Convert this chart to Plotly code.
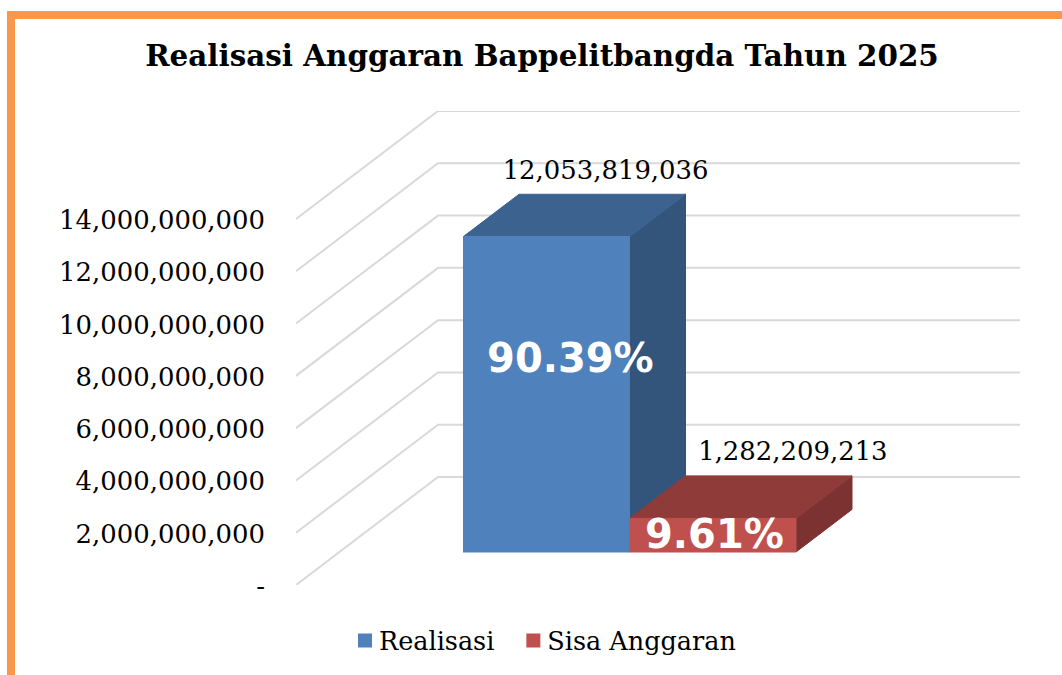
import plotly.graph_objects as go

TITLE = "Realisasi Anggaran Bappelitbangda Tahun 2025"
CATEGORIES = ["Realisasi", "Sisa Anggaran"]
VALUES = [12053819036, 1282209213]
VALUE_LABELS = ["12,053,819,036", "1,282,209,213"]
PERCENT_LABELS = ["90.39%", "9.61%"]
TICK_VALUES = [0, 2e9, 4e9, 6e9, 8e9, 10e9, 12e9, 14e9]
TICK_LABELS = ["-", "2,000,000,000", "4,000,000,000", "6,000,000,000",
               "8,000,000,000", "10,000,000,000", "12,000,000,000", "14,000,000,000"]

W, H = 1062, 675
SERIF = "DejaVu Serif"
# projection of the chart's depth axis into the value / category scales
PLOT_L, PLOT_R, PLOT_T, PLOT_B = 296, 1020, 111, 585
Y_MAX = 18.13e9
DEPTH_V = 4.13e9                  # full depth expressed in value units
PX_PER_UNIT = 166.5               # pixels per category slot
DEPTH_X = 142 / PX_PER_UNIT       # full depth in category units
X_BASE = 419.6
X0 = (PLOT_L - X_BASE) / PX_PER_UNIT
X1 = (PLOT_R - X_BASE) / PX_PER_UNIT
D_FRONT, D_BACK = 0.3056, 0.70
FRONT = ["#4f81bd", "#c0504d"]
TOP = ["#3c6290", "#8f3b3a"]
SIDE = ["#33557c", "#7c3230"]


def proj(x, v, d):
    return x + d * DEPTH_X, v + d * DEPTH_V


def poly(corners, fill, edge=None):
    xs, ys = zip(*[proj(*c) for c in corners])
    return go.Scatter(x=xs, y=ys, mode="lines", fill="toself", fillcolor=fill,
                      line=dict(color=edge or fill, width=1), hoverinfo="skip",
                      showlegend=False, cliponaxis=False)


fig = go.Figure()

# gridlines: walls of the depth box
gx, gy = [], []
for t in TICK_VALUES:
    for c in [(X0, t, 0), (X0, t, 1), (X1 - DEPTH_X, t, 1)]:
        px_, py_ = proj(*c)
        gx.append(px_)
        gy.append(py_)
    gx.append(None)
    gy.append(None)
fig.add_trace(go.Scatter(x=gx, y=gy, mode="lines", line=dict(color="#d9d9d9", width=2),
                         hoverinfo="skip", showlegend=False, cliponaxis=False))

# bars
for i, v in enumerate(VALUES):
    l, r = float(i), float(i + 1)
    fig.add_trace(poly([(r, 0, D_FRONT), (r, 0, D_BACK), (r, v, D_BACK), (r, v, D_FRONT)], SIDE[i]))
    fig.add_trace(poly([(l, v, D_FRONT), (l, v, D_BACK), (r, v, D_BACK), (r, v, D_FRONT)], TOP[i]))
    fig.add_trace(poly([(l, 0, D_FRONT), (r, 0, D_FRONT), (r, v, D_FRONT), (l, v, D_FRONT)], FRONT[i]))

# value labels above the bars and percentages on them
LABEL_SHIFT_X = [0.02, 0.145]
for i, v in enumerate(VALUES):
    lx, ly = proj(i + 0.5 + LABEL_SHIFT_X[i], v, D_BACK)
    fig.add_trace(go.Scatter(x=[lx], y=[ly + 0.845e9], mode="text", text=[VALUE_LABELS[i]],
                             textposition="middle center", hoverinfo="skip", showlegend=False,
                             cliponaxis=False,
                             textfont=dict(family=SERIF, size=25.9, color="#000000")))
PCT_X = [0.645, 0.51]
PCT_FRAC = [0.603, 0.42]
for i, v in enumerate(VALUES):
    lx, ly = proj(i + PCT_X[i], v * PCT_FRAC[i], D_FRONT)
    fig.add_trace(go.Scatter(x=[lx], y=[ly], mode="text", text=[PERCENT_LABELS[i]],
                             textposition="middle center", hoverinfo="skip", showlegend=False,
                             cliponaxis=False,
                             textfont=dict(family="DejaVu Sans", size=40, color="#ffffff",
                                           weight="bold")))

# legend entries
for i, c in enumerate(CATEGORIES):
    fig.add_trace(go.Scatter(x=[None], y=[None], mode="markers", name=c,
                             marker=dict(symbol="square", size=14, color=FRONT[i])))

fig.update_layout(
    width=W, height=H, autosize=False,
    margin=dict(l=0, r=0, t=0, b=0, autoexpand=False),
    paper_bgcolor="#ffffff", plot_bgcolor="#ffffff",
    title=dict(text=f"<b>{TITLE}</b>", x=542 / W, xanchor="center", y=1 - 56 / H, yanchor="middle",
               font=dict(family=SERIF, size=29.4, color="#000000")),
    xaxis=dict(domain=[PLOT_L / W, PLOT_R / W], range=[X0, X1], visible=False),
    yaxis=dict(domain=[1 - PLOT_B / H, 1 - PLOT_T / H], range=[0, Y_MAX],
               tickmode="array", tickvals=TICK_VALUES, ticktext=TICK_LABELS,
               showgrid=False, zeroline=False, showline=False, ticks="",
               ticklabelstandoff=30, tickfont=dict(family=SERIF, size=25.9, color="#000000")),
    legend=dict(orientation="h", x=345 / W, xanchor="left", y=1 - 641 / H, yanchor="middle",
                font=dict(family=SERIF, size=25.5, color="#000000"), itemwidth=30,
                bgcolor="rgba(0,0,0,0)", itemclick=False, itemdoubleclick=False),
    shapes=[dict(type="path", xref="paper", yref="paper",
                 path=f"M {11 / W},0 L {11 / W},{1 - 15 / H} L 1,{1 - 15 / H}",
                 line=dict(color="#f9984a", width=8), layer="below")],
    showlegend=True,
)

POST = """
document.body.style.margin='0';
document.documentElement.style.overflow='hidden';
document.querySelectorAll('.legendtext').forEach(function(t){
  t.setAttribute('x', 34);
  t.setAttribute('y', parseFloat(t.getAttribute('y')) - 1);
});
var clip = document.querySelector('.legend .scrollbox');
var entries = document.querySelectorAll('.legend .traces');
if (entries.length > 1) {
  var e = entries[1], m = /translate\\(([-\\d.]+)[ ,]+([-\\d.]+)\\)/.exec(e.getAttribute('transform'));
  if (m) e.setAttribute('transform', 'translate(' + (parseFloat(m[1]) + 8) + ',' + m[2] + ')');
}
document.querySelectorAll('.ytick text').forEach(function(t){
  t.setAttribute('y', parseFloat(t.getAttribute('y')) + 1);
});
document.querySelectorAll('[class*="legend"] clipPath rect, clipPath[id*="legend"] rect').forEach(function(r){
  r.setAttribute('width', 500);
});
"""
fig.write_html("out.html", post_script=POST, config={"displayModeBar": False})
